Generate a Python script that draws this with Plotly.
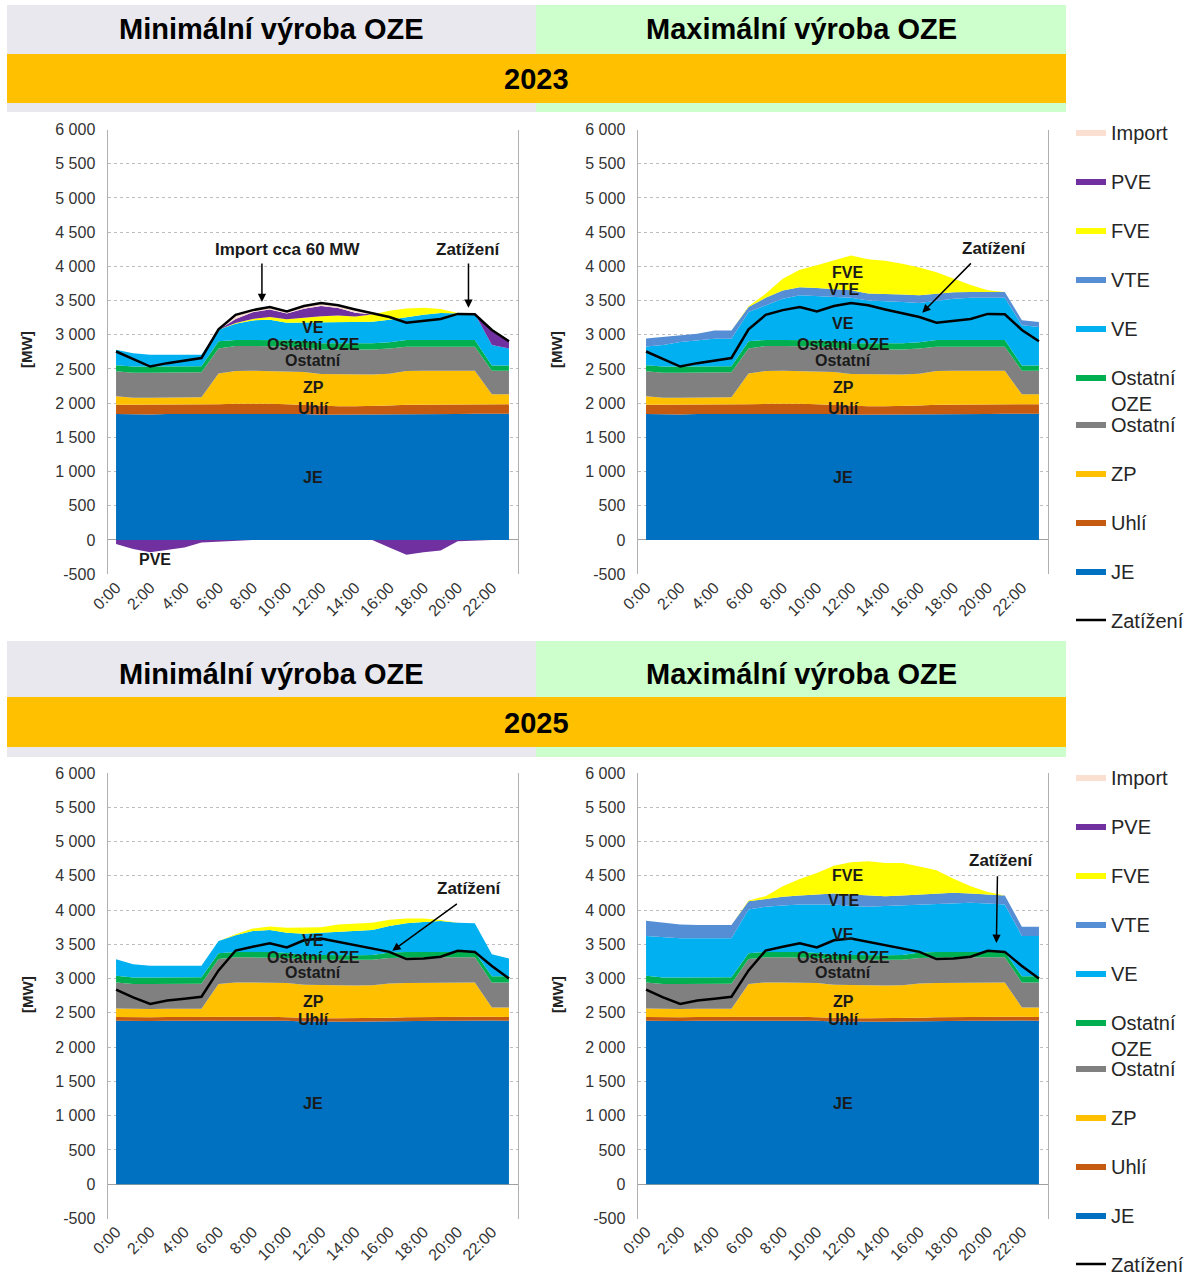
import plotly.graph_objects as go

# ---------------- data ----------------
HOURS = ["0:00", "1:00", "2:00", "3:00", "4:00", "5:00", "6:00", "7:00", "8:00", "9:00",
         "10:00", "11:00", "12:00", "13:00", "14:00", "15:00", "16:00", "17:00", "18:00",
         "19:00", "20:00", "21:00", "22:00", "23:00"]
TICK_LABELS = ["0:00", "2:00", "4:00", "6:00", "8:00", "10:00", "12:00", "14:00", "16:00",
               "18:00", "20:00", "22:00"]
Y_TICKS = [-500, 0, 500, 1000, 1500, 2000, 2500, 3000, 3500, 4000, 4500, 5000, 5500, 6000]
Y_TICK_LABELS = ["-500", "0", "500", "1 000", "1 500", "2 000", "2 500", "3 000", "3 500",
                 "4 000", "4 500", "5 000", "5 500", "6 000"]

# 2023 - common base
JE_2023 = [1840, 1835, 1835, 1840, 1840, 1840, 1845, 1850, 1850, 1850, 1845, 1840, 1830, 1830, 1830, 1830, 1835, 1840, 1840, 1840, 1840, 1845, 1845, 1845]
UHLI_2023 = [135, 140, 140, 140, 140, 140, 140, 140, 145, 140, 140, 135, 130, 125, 125, 125, 130, 135, 135, 135, 140, 140, 140, 140]
ZP_2023 = [125, 105, 105, 100, 105, 105, 450, 480, 480, 480, 480, 480, 465, 465, 465, 465, 465, 495, 500, 500, 495, 490, 145, 145]
OSTATNI_2023 = [365, 365, 365, 365, 360, 365, 365, 365, 360, 365, 365, 360, 360, 365, 365, 365, 370, 355, 350, 350, 350, 350, 345, 345]
OSTATNI_OZE_2023 = [90, 90, 90, 90, 90, 90, 105, 90, 90, 90, 90, 90, 90, 90, 90, 90, 90, 100, 100, 100, 100, 100, 75, 75]
LOAD_2023 = [2755, 2640, 2535, 2585, 2620, 2660, 3080, 3290, 3360, 3405, 3340, 3420, 3465, 3430, 3370, 3310, 3260, 3175, 3205, 3230, 3305, 3300, 3070, 2905]

# 2023 - minimal RES
VE_2023_MIN = [225, 195, 172, 172, 172, 167, 168, 236, 285, 295, 255, 275, 305, 310, 310, 315, 330, 334, 368, 392, 392, 382, 300, 250]
VTE_2023_MIN = [0, 0, 0, 0, 0, 0, 0, 0, 0, 0, 0, 0, 0, 0, 0, 0, 0, 0, 0, 0, 0, 0, 0, 0]
FVE_2023_MIN = [0, 0, 0, 0, 0, 0, 0, 10, 20, 40, 50, 70, 90, 95, 80, 105, 130, 125, 100, 60, 0, 0, 0, 0]
PVE_2023_MIN = [0, 0, 0, 0, 0, 0, 0, 60, 100, 110, 85, 130, 150, 110, 55, 0, 0, 0, 0, 0, 0, 0, 220, 120]
PVE_PUMP_2023_MIN = [-60, -130, -180, -150, -110, -35, -20, -10, 0, 0, 0, 0, 0, 0, 0, 0, -110, -215, -180, -155, -20, -5, 0, 0]
IMPORT_2023_MIN = [0, 0, 0, 0, 0, 0, 0, 60, 40, 40, 30, 40, 40, 40, 50, 0, 0, 0, 0, 0, 0, 0, 0, 0]

# 2023 - maximal RES
VE_2023_MAX = [274, 315, 358, 380, 406, 401, 427, 504, 602, 651, 645, 646, 665, 627, 620, 603, 573, 575, 602, 616, 616, 616, 587, 562]
VTE_2023_MAX = [115, 115, 100, 100, 120, 120, 75, 110, 120, 120, 120, 120, 110, 100, 105, 110, 115, 100, 95, 85, 85, 85, 75, 75]
FVE_2023_MAX = [0, 0, 0, 0, 0, 0, 10, 60, 170, 255, 330, 415, 510, 500, 480, 450, 405, 315, 195, 100, 25, 0, 0, 0]
PVE_2023_MAX = [0, 0, 0, 0, 0, 0, 0, 0, 0, 0, 0, 0, 0, 0, 0, 0, 0, 0, 0, 0, 0, 0, 0, 0]
IMPORT_2023_MAX = [0, 0, 0, 0, 0, 0, 0, 0, 0, 0, 0, 0, 0, 0, 0, 0, 0, 0, 0, 0, 0, 0, 0, 0]

# 2025 - common base
JE_2025 = [2385, 2380, 2380, 2385, 2385, 2385, 2390, 2390, 2395, 2390, 2385, 2375, 2370, 2370, 2370, 2375, 2380, 2380, 2385, 2385, 2385, 2390, 2390, 2385]
UHLI_2025 = [55, 55, 55, 55, 55, 55, 55, 55, 55, 55, 50, 50, 50, 50, 50, 50, 50, 55, 55, 55, 55, 55, 55, 55]
ZP_2025 = [125, 120, 120, 120, 120, 120, 475, 500, 495, 500, 500, 485, 485, 480, 480, 480, 500, 500, 500, 500, 500, 500, 135, 140]
OSTATNI_2025 = [380, 365, 365, 365, 365, 365, 365, 365, 365, 365, 365, 365, 370, 370, 370, 370, 370, 375, 370, 370, 370, 365, 365, 365]
OSTATNI_OZE_2025 = [95, 95, 95, 95, 95, 95, 85, 80, 80, 80, 75, 70, 70, 70, 70, 70, 80, 80, 80, 80, 80, 80, 90, 90]
LOAD_2025 = [2840, 2725, 2630, 2680, 2705, 2735, 3120, 3410, 3465, 3515, 3455, 3560, 3585, 3535, 3485, 3440, 3390, 3285, 3295, 3320, 3405, 3390, 3185, 3000]

# 2025 - minimal RES
VE_2025_MIN = [244, 196, 172, 167, 167, 167, 180, 242, 305, 320, 296, 311, 326, 341, 355, 365, 388, 416, 436, 450, 426, 416, 321, 258]
VTE_2025_MIN = [0, 0, 0, 0, 0, 0, 0, 0, 0, 0, 0, 0, 0, 0, 0, 0, 0, 0, 0, 0, 0, 0, 0, 0]
FVE_2025_MIN = [0, 0, 0, 0, 0, 0, 0, 15, 35, 50, 70, 85, 80, 110, 105, 105, 90, 70, 50, 15, 0, 0, 0, 0]
PVE_2025_MIN = [0, 0, 0, 0, 0, 0, 0, 0, 0, 0, 0, 0, 0, 0, 0, 0, 0, 0, 0, 0, 0, 0, 0, 0]
IMPORT_2025_MIN = [0, 0, 0, 0, 0, 0, 0, 0, 0, 0, 0, 0, 0, 0, 0, 0, 0, 0, 0, 0, 0, 0, 0, 0]

# 2025 - maximal RES
VE_2025_MAX = [583, 594, 575, 569, 569, 569, 640, 658, 678, 692, 707, 737, 713, 708, 718, 723, 702, 707, 716, 716, 707, 692, 588, 588]
VTE_2025_MAX = [220, 205, 200, 195, 195, 195, 120, 115, 125, 130, 145, 160, 170, 165, 145, 145, 145, 145, 145, 135, 130, 130, 135, 135]
FVE_2025_MAX = [0, 0, 0, 0, 0, 0, 10, 40, 155, 240, 315, 405, 470, 500, 485, 475, 410, 340, 205, 105, 35, 0, 0, 0]
PVE_2025_MAX = [0, 0, 0, 0, 0, 0, 0, 0, 0, 0, 0, 0, 0, 0, 0, 0, 0, 0, 0, 0, 0, 0, 0, 0]
IMPORT_2025_MAX = [0, 0, 0, 0, 0, 0, 0, 0, 0, 0, 0, 0, 0, 0, 0, 0, 0, 0, 0, 0, 0, 0, 0, 0]

# ---------------- styling ----------------
W, H = 1194, 1285
FONT = "Liberation Sans, Arial, Helvetica, sans-serif"
COLORS = {"JE": "#0070c0", "Uhlí": "#c55a11", "ZP": "#ffc000", "Ostatní": "#808080",
          "Ostatní OZE": "#00b050", "VE": "#00b0f0", "VTE": "#558ed5", "FVE": "#ffff00",
          "PVE": "#7030a0", "Import": "#fbe0d2"}
RANK = {"Import": 1, "PVE": 2, "FVE": 3, "VTE": 4, "VE": 5, "Ostatní OZE": 6,
        "Ostatní": 7, "ZP": 8, "Uhlí": 9, "JE": 10, "Zatížení": 11}
UPPER = {"Import", "PVE", "FVE", "VTE", "VE", "Ostatní OZE"}


def fx(px):
    return px / W


def fy(py):
    return 1 - py / H


panels = [
    dict(ax="", xdom=(107.5, 517.5), ydom=(129.5, 574.2), legends=None, pump=PVE_PUMP_2023_MIN, load=LOAD_2023,
         series=[("JE", JE_2023), ("Uhlí", UHLI_2023), ("ZP", ZP_2023), ("Ostatní", OSTATNI_2023),
                 ("Ostatní OZE", OSTATNI_OZE_2023), ("VE", VE_2023_MIN), ("VTE", VTE_2023_MIN),
                 ("FVE", FVE_2023_MIN), ("PVE", PVE_2023_MIN), ("Import", IMPORT_2023_MIN)]),
    dict(ax="2", xdom=(637.5, 1047.5), ydom=(129.5, 574.2), legends=("legend", "legend2"), pump=None, load=LOAD_2023,
         series=[("JE", JE_2023), ("Uhlí", UHLI_2023), ("ZP", ZP_2023), ("Ostatní", OSTATNI_2023),
                 ("Ostatní OZE", OSTATNI_OZE_2023), ("VE", VE_2023_MAX), ("VTE", VTE_2023_MAX),
                 ("FVE", FVE_2023_MAX), ("PVE", PVE_2023_MAX), ("Import", IMPORT_2023_MAX)]),
    dict(ax="3", xdom=(107.5, 517.5), ydom=(773.0, 1218.5), legends=None, pump=None, load=LOAD_2025,
         series=[("JE", JE_2025), ("Uhlí", UHLI_2025), ("ZP", ZP_2025), ("Ostatní", OSTATNI_2025),
                 ("Ostatní OZE", OSTATNI_OZE_2025), ("VE", VE_2025_MIN), ("VTE", VTE_2025_MIN),
                 ("FVE", FVE_2025_MIN), ("PVE", PVE_2025_MIN), ("Import", IMPORT_2025_MIN)]),
    dict(ax="4", xdom=(637.5, 1047.5), ydom=(773.0, 1218.5), legends=("legend3", "legend4"), pump=None, load=LOAD_2025,
         series=[("JE", JE_2025), ("Uhlí", UHLI_2025), ("ZP", ZP_2025), ("Ostatní", OSTATNI_2025),
                 ("Ostatní OZE", OSTATNI_OZE_2025), ("VE", VE_2025_MAX), ("VTE", VTE_2025_MAX),
                 ("FVE", FVE_2025_MAX), ("PVE", PVE_2025_MAX), ("Import", IMPORT_2025_MAX)]),
]

fig = go.Figure()
layout_axes = {}

for i, p in enumerate(panels):
    xa, ya = "x" + p["ax"], "y" + p["ax"]
    show = p["legends"] is not None
    for name, vals in p["series"]:
        fig.add_trace(go.Scatter(
            x=HOURS, y=vals, name=("Ostatní<br>OZE" if name == "Ostatní OZE" else name),
            mode="lines", stackgroup=f"stack{i}", line=dict(width=0, color=COLORS[name]),
            fillcolor=COLORS[name], xaxis=xa, yaxis=ya, showlegend=show,
            legend=(p["legends"][0] if name in UPPER else p["legends"][1]) if show else None,
            legendgroup=f"{name}{i}", legendrank=RANK[name], hoverinfo="skip"))
    if p["pump"] is not None:
        fig.add_trace(go.Scatter(
            x=HOURS, y=p["pump"], name="PVE", mode="lines", fill="tozeroy",
            line=dict(width=0, color=COLORS["PVE"]), fillcolor=COLORS["PVE"],
            xaxis=xa, yaxis=ya, showlegend=False, hoverinfo="skip"))
    fig.add_trace(go.Scatter(
        x=HOURS, y=p["load"], name="Zatížení", mode="lines",
        line=dict(color="black", width=2.5), xaxis=xa, yaxis=ya, showlegend=show,
        legend=p["legends"][1] if show else None, legendgroup=f"load{i}",
        legendrank=RANK["Zatížení"], hoverinfo="skip"))

    xkey = "xaxis" + p["ax"]
    ykey = "yaxis" + p["ax"]
    layout_axes[xkey] = dict(
        domain=[fx(p["xdom"][0]), fx(p["xdom"][1])], anchor=ya, type="category",
        categoryorder="array", categoryarray=HOURS, range=[-0.5, 23.5],
        tickmode="array", tickvals=TICK_LABELS, ticktext=TICK_LABELS, tickangle=-45,
        tickfont=dict(size=16, color="#333333", family=FONT), showgrid=False,
        showline=False, ticks="", automargin=False, fixedrange=True)
    layout_axes[ykey] = dict(
        domain=[fy(p["ydom"][1]), fy(p["ydom"][0])], anchor=xa, range=[-500, 6000],
        tickmode="array", tickvals=Y_TICKS, ticktext=Y_TICK_LABELS,
        tickfont=dict(size=16, color="#333333", family=FONT),
        showgrid=True, gridcolor="#bdbdbd", griddash="dot", gridwidth=1,
        zeroline=True, zerolinecolor="#a0a0a0", zerolinewidth=1,
        showline=True, linecolor="#b0b0b0", linewidth=1, mirror=True,
        ticks="", ticklabelstandoff=8, automargin=False, fixedrange=True)

fig.update_layout(**layout_axes)

# ---------------- headers ----------------
shapes = []
annotations = []


def ptext(text, x, y, size, color="black", angle=0):
    annotations.append(dict(text=text, x=fx(x), y=fy(y), xref="paper", yref="paper",
                            xanchor="center", yanchor="middle", showarrow=False, textangle=angle,
                            font=dict(size=size, color=color, family=FONT)))


def rect(x0, x1, y0, y1, color):
    shapes.append(dict(type="rect", xref="paper", yref="paper", x0=fx(x0), x1=fx(x1),
                       y0=fy(y1), y1=fy(y0), fillcolor=color, line=dict(width=0), layer="below"))


# (band top, band bottom, orange top, orange bottom, title y, year y, year)
HEADERS = [(5, 112, 54, 103, 29, 79, "2023"), (641, 757, 697, 747, 674, 723, "2025")]
for b0, b1, o0, o1, ty, yy, year in HEADERS:
    rect(7, 536, b0, b1, "#e8e8ee")
    rect(536, 1066, b0, b1, "#ccffcc")
    rect(7, 1066, o0, o1, "#ffc000")
    ptext("<b>Minimální výroba OZE</b>", 271, ty, 29)
    ptext("<b>Maximální výroba OZE</b>", 801, ty, 29)
    ptext(f"<b>{year}</b>", 536, yy, 29)

# y axis titles
for xx, yy in ((27, 350), (557, 350), (27, 995), (557, 995)):
    ptext("<b>[MW]</b>", xx, yy, 15, "#222222", -90)


def label(ax, text, x, y, size=16):
    annotations.append(dict(text=f"<b>{text}</b>", x=x, y=y, xref="x" + ax, yref="y" + ax,
                            xanchor="center", yanchor="middle", showarrow=False,
                            font=dict(size=size, color="#1a1a1a", family=FONT)))


def arrow(ax, hx, hy, tx, ty):
    annotations.append(dict(text="", x=hx, y=hy, ax=tx, ay=ty, xref="x" + ax, yref="y" + ax,
                            axref="x" + ax, ayref="y" + ax, showarrow=True, arrowhead=2,
                            arrowsize=1.1, arrowwidth=1.5, arrowcolor="black"))


# panel 1 (2023 min)
label("", "VE", 11.53, 3100)
label("", "Ostatní OZE", 11.53, 2852)
label("", "Ostatní", 11.53, 2618)
label("", "ZP", 11.53, 2223)
label("", "Uhlí", 11.53, 1916)
label("", "JE", 11.53, 907)
label("", "PVE", 2.26, -292)
label("", "Import cca 60 MW", 10.06, 4241, 17)
arrow("", 8.54, 3480, 8.54, 4065)
label("", "Zatížení", 20.63, 4241, 17)
arrow("", 20.63, 3393, 20.63, 4065)

# panel 2 (2023 max)
label("2", "FVE", 11.77, 3905)
label("2", "VTE", 11.53, 3656)
label("2", "VE", 11.53, 3159)
label("2", "Ostatní OZE", 11.53, 2852)
label("2", "Ostatní", 11.53, 2618)
label("2", "ZP", 11.53, 2223)
label("2", "Uhlí", 11.53, 1916)
label("2", "JE", 11.53, 907)
label("2", "Zatížení", 20.39, 4255, 17)
arrow("2", 16.17, 3320, 19.10, 4065)

# panel 3 (2025 min)
label("3", "VE", 11.53, 3550)
label("3", "Ostatní OZE", 11.53, 3302)
label("3", "Ostatní", 11.53, 3083)
label("3", "ZP", 11.53, 2660)
label("3", "Uhlí", 11.53, 2397)
label("3", "JE", 11.53, 1171)
label("3", "Zatížení", 20.69, 4310, 17)
arrow("3", 16.17, 3405, 20.04, 4105)

# panel 4 (2025 max)
label("4", "FVE", 11.77, 4499)
label("4", "VTE", 11.53, 4134)
label("4", "VE", 11.53, 3650)
label("4", "Ostatní OZE", 11.53, 3302)
label("4", "Ostatní", 11.53, 3083)
label("4", "ZP", 11.53, 2660)
label("4", "Uhlí", 11.53, 2397)
label("4", "JE", 11.53, 1171)
label("4", "Zatížení", 20.80, 4718, 17)
arrow("4", 20.51, 3521, 20.57, 4514)

LEG = dict(xanchor="left", yanchor="top", traceorder="grouped", tracegroupgap=20,
           font=dict(size=20, color="#262626", family=FONT), valign="top",
           bgcolor="rgba(0,0,0,0)", borderwidth=0, itemclick=False, itemdoubleclick=False)

fig.update_layout(
    width=W, height=H, autosize=False, margin=dict(l=0, r=0, t=0, b=0),
    paper_bgcolor="white", plot_bgcolor="white",
    font=dict(family=FONT), showlegend=True,
    shapes=shapes, annotations=annotations,
    legend=dict(x=fx(1071), y=fy(112.5), **LEG),
    legend2=dict(x=fx(1071), y=fy(404.5), **LEG),
    legend3=dict(x=fx(1071), y=fy(757.5), **LEG),
    legend4=dict(x=fx(1071), y=fy(1048.5), **LEG),
)

fig.write_html("out.html", config={"displayModeBar": False},
               post_script="document.body.style.margin='0px';")
